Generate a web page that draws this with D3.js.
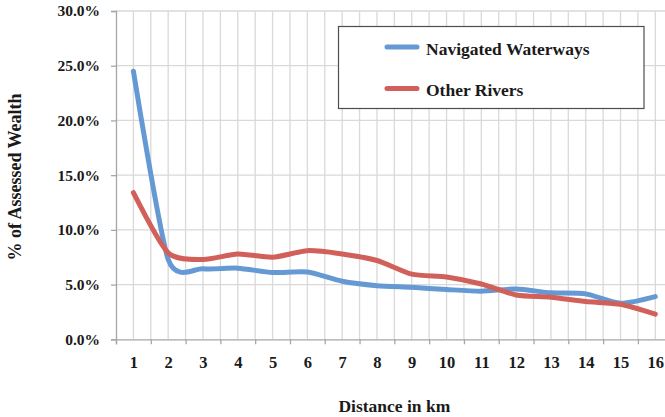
<!DOCTYPE html>
<html>
<head>
<meta charset="utf-8">
<script src="https://cdn.jsdelivr.net/npm/d3@7"></script>
<style>
  html, body { margin: 0; padding: 0; background: #fff; }
  svg { display: block; }
  text { font-family: "Liberation Serif", "DejaVu Serif", serif; font-weight: bold; fill: #1a1a1a; }
</style>
</head>
<body>
<svg id="chart" width="665" height="417"></svg>
<script>
const distances = [1, 2, 3, 4, 5, 6, 7, 8, 9, 10, 11, 12, 13, 14, 15, 16];
const navigatedWaterways = [24.5, 7.3, 6.45, 6.5, 6.1, 6.15, 5.3, 4.9, 4.75, 4.55, 4.4, 4.6, 4.25, 4.15, 3.3, 3.9];
const otherRivers = [13.4, 7.9, 7.3, 7.8, 7.5, 8.1, 7.8, 7.2, 5.95, 5.7, 5.05, 4.05, 3.85, 3.45, 3.2, 2.3];
const yTicks = [0, 5, 10, 15, 20, 25, 30];
const seriesNames = ["Navigated Waterways", "Other Rivers"];
const seriesColors = ["#6499d4", "#d2605a"];

const svg = d3.select("#chart");
const x = d3.scaleLinear().domain([0.5, 16.5]).range([116, 672.7]);
const y = d3.scaleLinear().domain([0, 30]).range([339.3, 11]);

const gridColor = "#d9d9d9";
const axisColor = "#a6a6a6";

// vertical gridlines every half km
const vGrid = d3.range(1, 16.51, 0.5);
svg.append("g").selectAll("line").data(vGrid).join("line")
  .attr("x1", d => x(d)).attr("x2", d => x(d))
  .attr("y1", y(30)).attr("y2", y(0))
  .attr("stroke", gridColor).attr("stroke-width", 1.3);

// horizontal gridlines
svg.append("g").selectAll("line").data(yTicks.filter(d => d > 0)).join("line")
  .attr("x1", x(0.5)).attr("x2", x(16.5))
  .attr("y1", d => y(d)).attr("y2", d => y(d))
  .attr("stroke", gridColor).attr("stroke-width", 1.3);

// y axis
const yAxis = d3.axisLeft(y).tickValues(yTicks).tickSize(5).tickPadding(11)
  .tickFormat(d => d3.format(".1%")(d / 100));
const gy = svg.append("g").attr("transform", `translate(${x(0.5)},0)`).call(yAxis);
gy.attr("font-family", null);
gy.select(".domain").attr("stroke", axisColor).attr("stroke-width", 1.3);
gy.selectAll(".tick line").attr("stroke", axisColor).attr("stroke-width", 1.3);
gy.selectAll("text").attr("font-size", 15.5).style("fill", "#1a1a1a");

// x axis tick marks at category boundaries
const xMarks = d3.axisBottom(x).tickValues(d3.range(0.5, 16.51, 1)).tickSize(5).tickFormat("");
const gx = svg.append("g").attr("transform", `translate(0,${y(0)})`).call(xMarks);
gx.select(".domain").attr("stroke", axisColor).attr("stroke-width", 1.3);
gx.selectAll(".tick line").attr("stroke", axisColor).attr("stroke-width", 1.3);

// x axis labels at category centers
const xLabels = d3.axisBottom(x).tickValues(distances).tickSize(0).tickPadding(17).tickFormat(d3.format("d"));
const gxl = svg.append("g").attr("transform", `translate(0,${y(0)})`).call(xLabels);
gxl.attr("font-family", null);
gxl.select(".domain").remove();
gxl.selectAll("text").attr("font-size", 16.5).style("fill", "#1a1a1a");

// lines
const line = d3.line().x((d, i) => x(distances[i])).y(d => y(d)).curve(d3.curveCardinal.tension(0.3));
[navigatedWaterways, otherRivers].forEach((vals, k) => {
  svg.append("path").datum(vals)
    .attr("d", line)
    .attr("fill", "none")
    .attr("stroke", seriesColors[k])
    .attr("stroke-width", 5)
    .attr("stroke-linecap", "round")
    .attr("stroke-linejoin", "round");
});

// legend
svg.append("rect").attr("x", 338.5).attr("y", 26.5).attr("width", 305.5).attr("height", 82)
  .attr("fill", "#fff").attr("stroke", "#4d4d4d").attr("stroke-width", 1.2);
const legendY = [47, 88.5];
seriesNames.forEach((name, k) => {
  svg.append("line").attr("x1", 387).attr("x2", 417).attr("y1", legendY[k]).attr("y2", legendY[k])
    .attr("stroke", seriesColors[k]).attr("stroke-width", 5).attr("stroke-linecap", "round");
  svg.append("text").attr("x", 426).attr("y", legendY[k] + 7.5).attr("font-size", 17.5).text(name);
});

// axis titles
svg.append("text").attr("x", (x(0.5) + x(16.5)) / 2).attr("y", 411.5)
  .attr("text-anchor", "middle").attr("font-size", 17.5).text("Distance in km");
svg.append("text").attr("transform", "translate(21,177) rotate(-90)")
  .attr("text-anchor", "middle").attr("font-size", 18).text("% of Assessed Wealth");
</script>
</body>
</html>
